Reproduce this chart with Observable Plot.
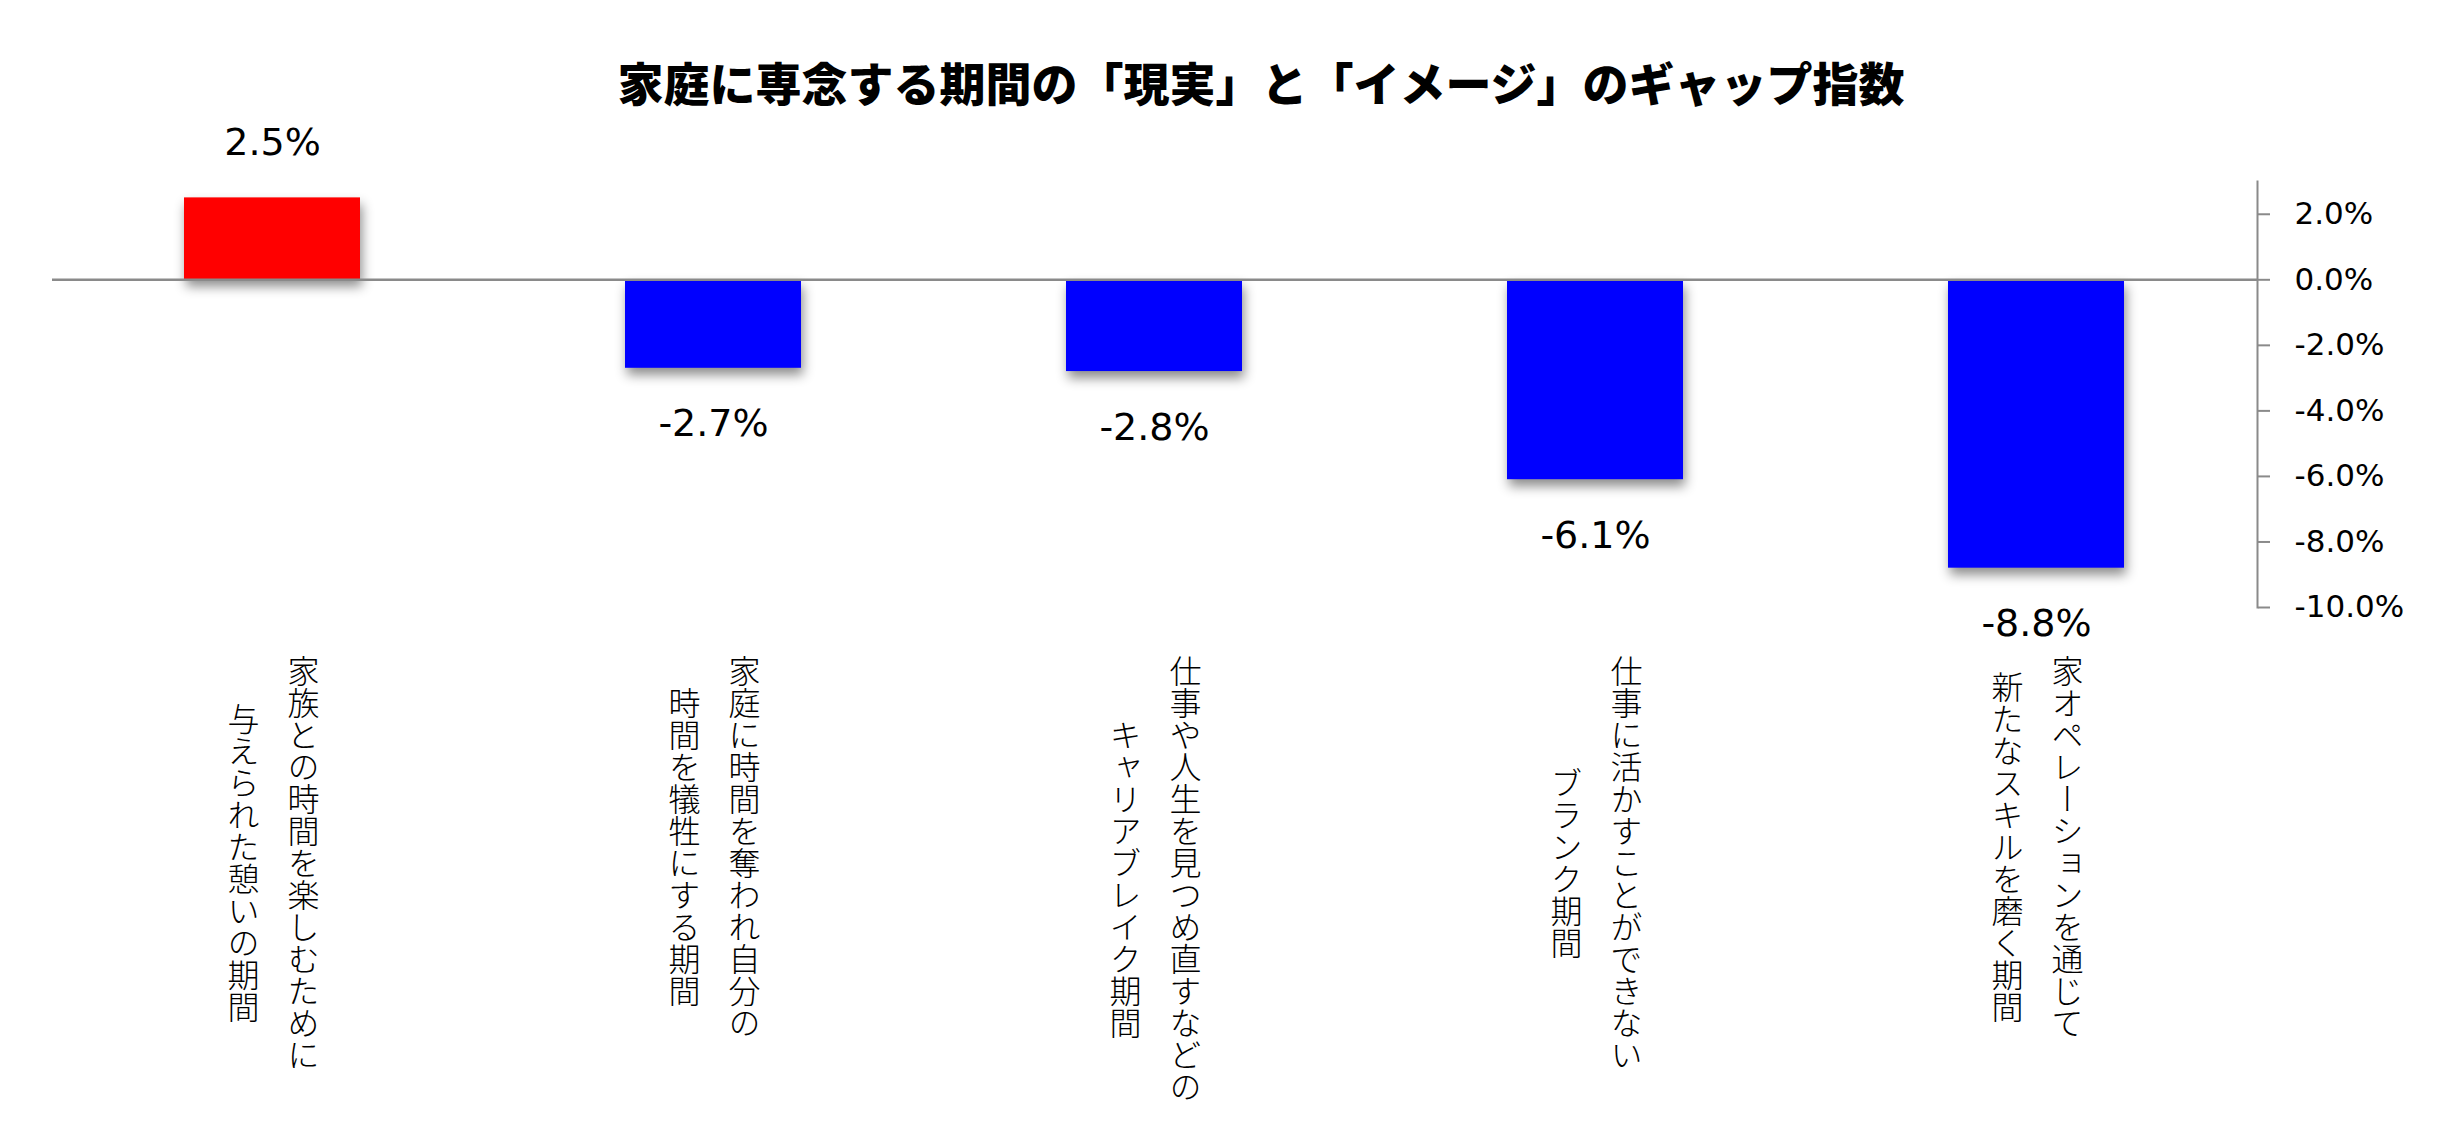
<!DOCTYPE html>
<html>
<head>
<meta charset="utf-8">
<script src="https://cdn.jsdelivr.net/npm/d3@7"></script>
<script src="https://cdn.jsdelivr.net/npm/@observablehq/plot@0.6"></script>
<style>
  html, body { margin: 0; padding: 0; background: #fff; width: 2442px; height: 1136px; overflow: hidden; }
  #title {
    position: absolute; left: 40px; top: 56px; width: 2442px; text-align: center;
    font-family: "Noto Sans CJK JP", sans-serif; font-weight: 900; font-size: 46px; line-height: 50px; color: #000;
  }
  #chart { position: absolute; left: 0; top: 120px; }
  #labels { position: absolute; left: 0; top: 654px; }
  #chart svg, #labels svg { overflow: visible; }
  #chart g[aria-label="bar"] rect { filter: drop-shadow(2px 7px 6px rgba(0,0,0,0.45)); }
  #labels text { writing-mode: vertical-rl; text-orientation: mixed; }
</style>
</head>
<body>
<div id="title">家庭に専念する期間の「現実」と「イメージ」のギャップ指数</div>
<div id="chart"></div>
<div id="labels"></div>
<script>
// ---- data ----
const labelLine1 = [
  "家族との時間を楽しむために",
  "家庭に時間を奪われ自分の",
  "仕事や人生を見つめ直すなどの",
  "仕事に活かすことができない",
  "家オペレーションを通じて"
];
const labelLine2 = [
  "与えられた憩いの期間",
  "時間を犠牲にする期間",
  "キャリアブレイク期間",
  "ブランク期間",
  "新たなスキルを磨く期間"
];
const values = [2.5, -2.7, -2.8, -6.1, -8.8];
const yTicks = [2, 0, -2, -4, -6, -8, -10];

// ---- derived tables ----
const categories = labelLine1.map((a, i) => a + labelLine2[i]);
const rows = categories.map((c, i) => ({cat: c, value: values[i], sign: values[i] >= 0 ? "pos" : "neg"}));
const labelRows = categories.map((c, i) => {
  const n = Math.max([...labelLine1[i]].length, [...labelLine2[i]].length);
  return {cat: c, l1: labelLine1[i], l2: labelLine2[i], mid: n / 2};
});

const W = 2442;
const xScale = {domain: categories, paddingInner: 0.6, paddingOuter: 0.3, axis: null};
const fmt = d => d.toFixed(1) + "%";

const chart = Plot.plot({
  width: W,
  height: 533,
  marginTop: 61,
  marginBottom: 46,
  marginLeft: 52,
  marginRight: 185,
  style: {fontFamily: "'DejaVu Sans', Verdana, sans-serif", color: "#000", background: "transparent"},
  x: xScale,
  y: {domain: [-10, 3]},
  color: {domain: ["pos", "neg"], range: ["#ff0000", "#0000ff"]},
  marks: [
    Plot.barY(rows, {x: "cat", y: "value", fill: "sign"}),
    Plot.ruleY([0], {stroke: "#8a8a8a", strokeWidth: 2.5}),
    Plot.frame({anchor: "right", stroke: "#8a8a8a", strokeWidth: 2}),
    Plot.axisY({anchor: "right", label: null, ticks: yTicks, tickFormat: fmt, tickSize: 12, tickPadding: 25,
      stroke: "#8a8a8a", strokeWidth: 2, fontSize: 31, fill: "#000"}),
    Plot.text(rows.filter(d => d.value >= 0), {x: "cat", y: "value", text: d => fmt(d.value),
      dy: -55, fontSize: 38, fill: "#000"}),
    Plot.text(rows.filter(d => d.value < 0), {x: "cat", y: "value", text: d => fmt(d.value),
      dy: 56, fontSize: 38, fill: "#000"})
  ]
});
document.getElementById("chart").appendChild(chart);

const labels = Plot.plot({
  width: W,
  height: 482,
  marginTop: 0,
  marginBottom: 34,
  marginLeft: 52,
  marginRight: 185,
  style: {fontFamily: "'Noto Sans CJK JP', sans-serif", color: "#000", background: "transparent"},
  x: xScale,
  y: {domain: [0, 14], range: [0, 14 * 32], axis: null},
  marks: [
    Plot.text(labelRows, {x: "cat", y: "mid", text: "l1", dx: 30, textAnchor: "middle", lineAnchor: "bottom",
      fontSize: 32, fontWeight: 300, fill: "#000"}),
    Plot.text(labelRows, {x: "cat", y: "mid", text: "l2", dx: -30, textAnchor: "middle", lineAnchor: "bottom",
      fontSize: 32, fontWeight: 300, fill: "#000"})
  ]
});
document.getElementById("labels").appendChild(labels);
</script>
</body>
</html>
